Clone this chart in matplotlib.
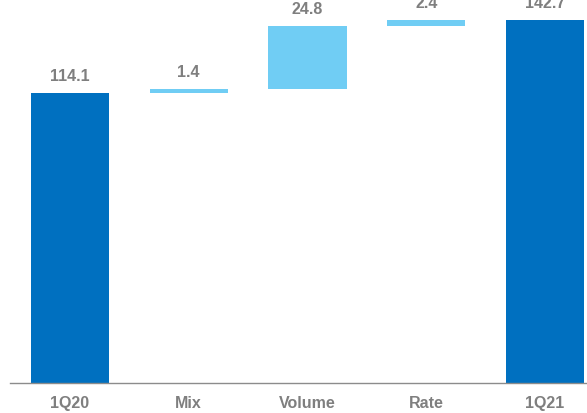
import numpy as np
import matplotlib
matplotlib.use("Agg")
import matplotlib.pyplot as plt

plt.rcParams["font.family"] = ["Liberation Sans", "DejaVu Sans"]

# waterfall data
categories = ["1Q20", "Mix", "Volume", "Rate", "1Q21"]
values = [114.1, 1.4, 24.8, 2.4, 142.7]
is_total = [True, False, False, False, True]

dark_blue = "#0070C0"
light_blue = "#70CDF4"
grey = "#7F7F7F"

# bottoms for the floating bars
bottoms = []
running = 0
for v, tot in zip(values, is_total):
    if tot:
        bottoms.append(0)
        running = v
    else:
        bottoms.append(running)
        running += v

colors = [dark_blue if t else light_blue for t in is_total]
x = np.arange(len(categories))

fig = plt.figure(figsize=(5.87, 4.13), dpi=100)
ax = fig.add_axes([10 / 587, 30 / 413, 577 / 587, 383 / 413])

ax.bar(x, values, bottom=bottoms, width=0.66, color=colors, edgecolor="none")

for xi, v, b in zip(x, values, bottoms):
    ax.annotate(f"{v:.1f}", (xi, b + v), xytext=(0, 6.5), textcoords="offset points",
                ha="center", va="bottom", fontsize=11.5, fontweight="bold", color=grey)

ax.set_xlim(-0.505, 4.354)
ax.set_ylim(0, 150.7)
ax.set_xticks(x)
ax.set_xticklabels(categories, fontsize=11.5, fontweight="bold", color=grey)
ax.tick_params(axis="x", length=0, pad=9.5)
ax.set_yticks([])

for s in ["top", "right", "left"]:
    ax.spines[s].set_visible(False)
ax.spines["bottom"].set_color("#8C8C8C")
ax.spines["bottom"].set_linewidth(1.0)

fig.savefig("out.png", dpi=100)
